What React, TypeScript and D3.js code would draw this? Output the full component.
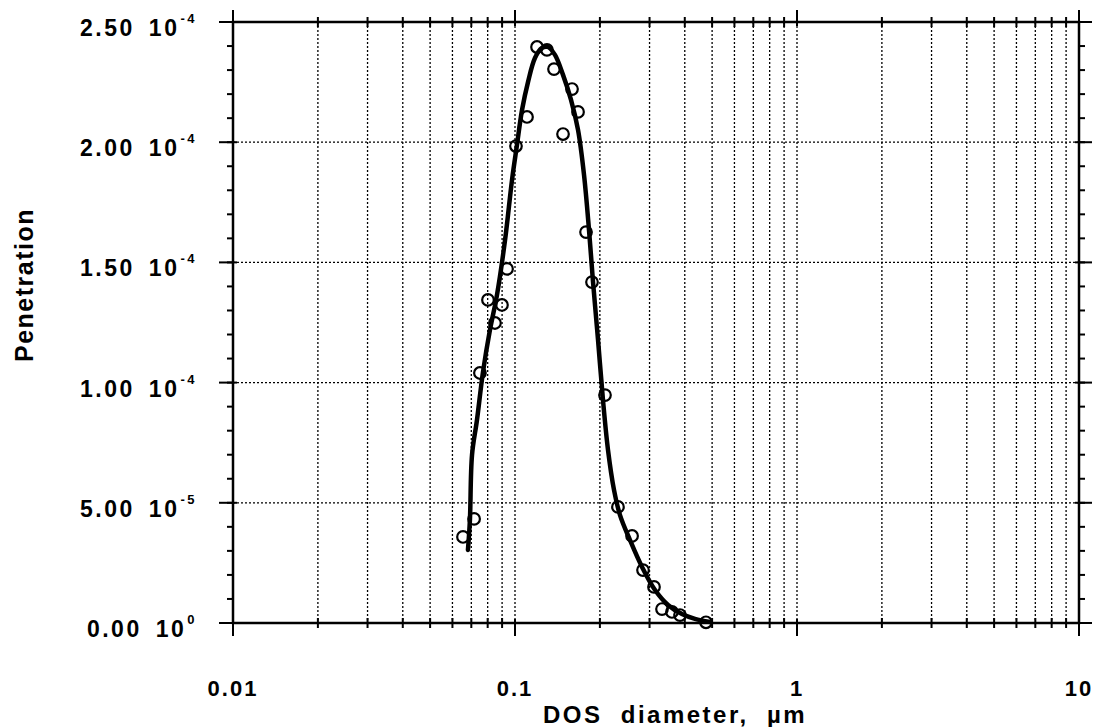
import React from "react";
import * as d3 from "d3";

const W = 1096;
const H = 727;

// Measured penetration points (diameter in µm, penetration)
const pointD = [0.0654, 0.0716, 0.0751, 0.0802, 0.0849, 0.0899, 0.0937, 0.1008, 0.1103, 0.1197, 0.1298, 0.1375, 0.148, 0.1593, 0.1673, 0.1786, 0.1875, 0.2085, 0.2318, 0.2601, 0.2844, 0.3111, 0.3321, 0.3602, 0.3847, 0.4756];
const pointP = [3.58e-5, 4.33e-5, 1.04e-4, 1.344e-4, 1.248e-4, 1.323e-4, 1.473e-4, 1.984e-4, 2.105e-4, 2.396e-4, 2.384e-4, 2.304e-4, 2.034e-4, 2.221e-4, 2.126e-4, 1.626e-4, 1.418e-4, 9.48e-5, 4.83e-5, 3.62e-5, 2.2e-5, 1.5e-5, 5.8e-6, 4.6e-6, 3.3e-6, 3e-7];

// Fitted curve
const curveD = [0.0681, 0.0692, 0.0704, 0.0733, 0.077, 0.0815, 0.0863, 0.0922, 0.0976, 0.1016, 0.1059, 0.1112, 0.1177, 0.1246, 0.1309, 0.1386, 0.148, 0.158, 0.1673, 0.1757, 0.183, 0.1891, 0.197, 0.2051, 0.2137, 0.2245, 0.2357, 0.2557, 0.2821, 0.3137, 0.3488, 0.391, 0.4347, 0.4914];
const curveP = [3.04e-5, 4.28e-5, 6.99e-5, 8.44e-5, 1.044e-4, 1.219e-4, 1.364e-4, 1.593e-4, 1.843e-4, 1.988e-4, 2.134e-4, 2.25e-4, 2.35e-4, 2.392e-4, 2.396e-4, 2.363e-4, 2.28e-4, 2.176e-4, 2.051e-4, 1.864e-4, 1.635e-4, 1.418e-4, 1.177e-4, 9.28e-5, 7.2e-5, 5.53e-5, 4.49e-5, 3.45e-5, 2.33e-5, 1.37e-5, 7.5e-6, 3.7e-6, 1.7e-6, 4e-7];

const yTickValues = [2.5e-4, 2.0e-4, 1.5e-4, 1.0e-4, 5.0e-5, 0];
const yTickMantissa = ["2.50", "2.00", "1.50", "1.00", "5.00", "0.00"];
const yTickExponent = ["-4", "-4", "-4", "-4", "-5", "0"];
const xMajorTicks = [0.01, 0.1, 1, 10];
const xMajorLabels = ["0.01", "0.1", "1", "10"];

const xLabel = "DOS  diameter,  µm";
const yLabel = "Penetration";

export default function App() {
  const x = d3.scaleLog().domain([0.01, 10]).range([233, 1079]);
  const y = d3.scaleLinear().domain([0, 2.5e-4]).range([623, 22]);
  const [x0, x1] = x.range();
  const [y0, y1] = y.range();

  const minorX: number[] = [];
  for (const dec of [0.01, 0.1, 1]) {
    for (let k = 2; k <= 9; k++) minorX.push(dec * k);
  }
  const minorY = d3.range(0, 26).map((i) => i * 1e-5);

  const line = d3
    .line<number>()
    .x((_, i) => x(curveD[i]))
    .y((_, i) => y(curveP[i]))
    .curve(d3.curveCatmullRom.alpha(0.5));

  const font = "'Liberation Sans', Arial, Helvetica, sans-serif";

  return (
    <svg
      width={W}
      height={H}
      style={{ position: "absolute", left: 0, top: 0, background: "#fff" }}
      fontFamily={font}
    >
      <rect x={0} y={0} width={W} height={H} fill="#fff" />
      {/* vertical grid */}
      {[...minorX, 0.1, 1].map((v, i) => (
        <line
          key={"gx" + i}
          x1={x(v)}
          x2={x(v)}
          y1={y1}
          y2={y0}
          stroke="#000"
          strokeWidth={1.3}
          strokeDasharray="2,2"
        />
      ))}
      {/* horizontal grid */}
      {yTickValues.slice(1, 5).map((v, i) => (
        <line
          key={"gy" + i}
          x1={x0}
          x2={x1}
          y1={y(v)}
          y2={y(v)}
          stroke="#000"
          strokeWidth={1.3}
          strokeDasharray="2,2"
        />
      ))}
      {/* minor y ticks */}
      {minorY.map((v, i) => (
        <g key={"my" + i}>
          <line x1={x0 - 6} x2={x0} y1={y(v)} y2={y(v)} stroke="#000" strokeWidth={2} />
          <line x1={x1} x2={x1 + 6} y1={y(v)} y2={y(v)} stroke="#000" strokeWidth={2} />
        </g>
      ))}
      {/* major y ticks */}
      {yTickValues.map((v, i) => (
        <g key={"My" + i}>
          <line x1={x0 - 14} x2={x0 + 4} y1={y(v)} y2={y(v)} stroke="#000" strokeWidth={2} />
          <line x1={x1 - 4} x2={x1 + 13} y1={y(v)} y2={y(v)} stroke="#000" strokeWidth={2} />
        </g>
      ))}
      {/* minor x ticks */}
      {minorX.map((v, i) => (
        <g key={"mx" + i}>
          <line x1={x(v)} x2={x(v)} y1={y0 - 5} y2={y0 + 5} stroke="#000" strokeWidth={2} />
          <line x1={x(v)} x2={x(v)} y1={y1 - 5} y2={y1 + 5} stroke="#000" strokeWidth={2} />
        </g>
      ))}
      {/* major x ticks */}
      {xMajorTicks.map((v, i) => (
        <g key={"Mx" + i}>
          <line x1={x(v)} x2={x(v)} y1={y0 - 4} y2={y0 + 13} stroke="#000" strokeWidth={2} />
          <line x1={x(v)} x2={x(v)} y1={y1 - 12} y2={y1 + 4} stroke="#000" strokeWidth={2} />
        </g>
      ))}
      {/* frame */}
      <rect x={x0} y={y1} width={x1 - x0} height={y0 - y1} fill="none" stroke="#000" strokeWidth={2.5} />

      {/* data points */}
      {pointD.map((d, i) => (
        <circle key={"p" + i} cx={x(d)} cy={y(pointP[i])} r={5.8} fill="none" stroke="#000" strokeWidth={2.2} />
      ))}
      {/* fitted curve */}
      <path d={line(curveD) || ""} fill="none" stroke="#000" strokeWidth={4.5} strokeLinejoin="round" strokeLinecap="round" />

      {/* y tick labels */}
      {yTickValues.map((v, i) => (
        <text
          key={"yl" + i}
          x={197}
          y={y(v) + 14}
          textAnchor="end"
          fontSize={23}
          fontWeight="bold"
          letterSpacing={2.5}
        >
          {yTickMantissa[i]}
          <tspan dx={14}>10</tspan>
          <tspan dy={-13} fontSize={13} dx={1}>
            {yTickExponent[i]}
          </tspan>
        </text>
      ))}
      {/* x tick labels */}
      {xMajorTicks.map((v, i) => (
        <text
          key={"xl" + i}
          x={x(v)}
          y={696}
          textAnchor="middle"
          fontSize={22}
          fontWeight="bold"
          letterSpacing={2}
        >
          {xMajorLabels[i]}
        </text>
      ))}
      {/* axis titles */}
      <text
        x={675}
        y={723}
        textAnchor="middle"
        fontSize={24}
        fontWeight="bold"
        letterSpacing={2.5}
        xmlSpace="preserve"
        style={{ whiteSpace: "pre" }}
      >
        {xLabel}
      </text>
      <text
        transform="translate(33,285) rotate(-90)"
        textAnchor="middle"
        fontSize={25}
        fontWeight="bold"
        letterSpacing={1.5}
      >
        {yLabel}
      </text>
    </svg>
  );
}
